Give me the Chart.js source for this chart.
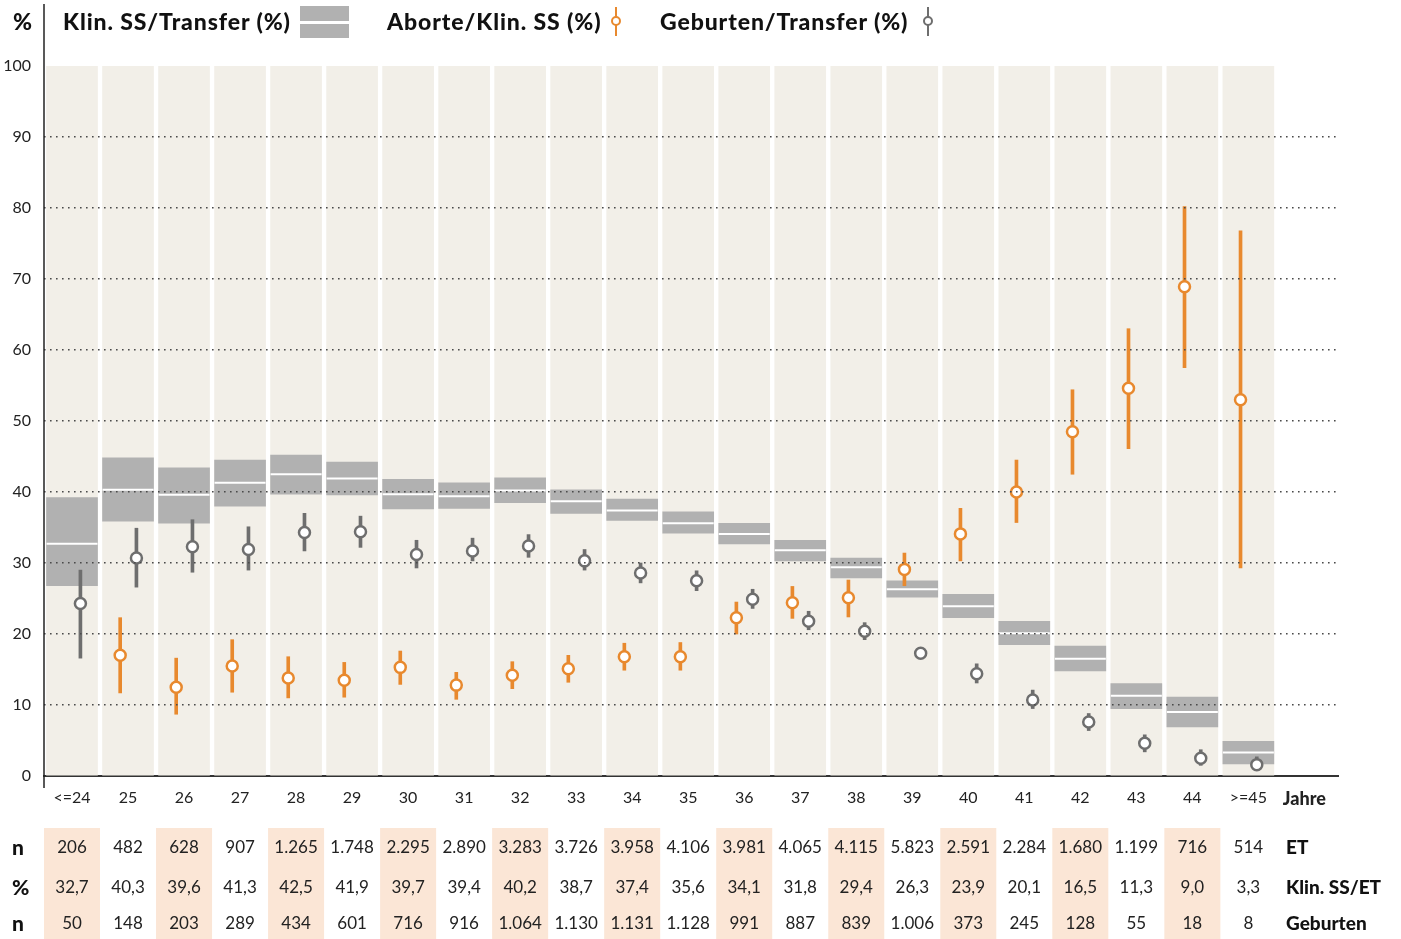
<!DOCTYPE html>
<html>
<head>
<meta charset="utf-8">
<script src="https://cdn.jsdelivr.net/npm/chart.js@4.4.1/dist/chart.umd.min.js"></script>
<style>
  body { margin: 0; background: #fff; font-family: Lato, "Noto Sans", sans-serif; }
  #wrap { position: relative; width: 1401px; height: 939px; }
  #chart { position: absolute; left: 0; top: 0; }
  .lg { position: absolute; top: 6px; font-weight: 900; font-size: 23px; line-height: 30px; letter-spacing: 0.9px; color: #111; white-space: nowrap; }
  .box { position: absolute; left: 300px; top: 6px; width: 49px; height: 32px; background: #b1b1b1; }
  .box:after { content: ""; position: absolute; left: 0; right: 0; top: 15px; height: 3px; background: #fff; }
  .whisk { position: absolute; top: 7px; width: 2px; height: 29px; }
  .dot { position: absolute; top: 16px; width: 6px; height: 6px; border-radius: 50%; background: #fff; border: 2px solid; }
</style>
</head>
<body>
<div id="wrap">
  <canvas id="chart" width="1401" height="939"></canvas>
  <div class="lg" style="left:13px">%</div>
  <div class="lg" style="left:63px">Klin. SS/Transfer (%)</div>
  <div class="box"></div>
  <div class="lg" style="left:387px">Aborte/Klin. SS (%)</div>
  <div class="whisk" style="left:615px;background:#e8892e"></div>
  <div class="dot" style="left:611px;border-color:#e8892e"></div>
  <div class="lg" style="left:660px">Geburten/Transfer (%)</div>
  <div class="whisk" style="left:927px;background:#6e6e6e"></div>
  <div class="dot" style="left:923px;border-color:#6e6e6e"></div>
</div>
<script>
const ages = ['<=24', '25', '26', '27', '28', '29', '30', '31', '32', '33', '34', '35', '36', '37', '38', '39', '40', '41', '42', '43', '44', '>=45'];
const axisTitle = 'Jahre';

// Klin. SS/Transfer (%) with range
const ssPct  = [32.7, 40.3, 39.6, 41.3, 42.5, 41.9, 39.7, 39.4, 40.2, 38.7, 37.4, 35.6, 34.1, 31.8, 29.4, 26.3, 23.9, 20.1, 16.5, 11.3, 9.0, 3.3];
const ssLow  = [26.8, 35.9, 35.6, 38.0, 39.7, 39.6, 37.6, 37.7, 38.5, 37.0, 36.0, 34.2, 32.7, 30.3, 27.9, 25.2, 22.3, 18.5, 14.8, 9.5, 6.9, 1.7];
const ssHigh = [39.2, 44.8, 43.4, 44.5, 45.2, 44.2, 41.8, 41.3, 42.0, 40.3, 39.0, 37.2, 35.6, 33.2, 30.7, 27.5, 25.6, 21.8, 18.3, 13.0, 11.1, 4.9];

// Aborte/Klin. SS (%)
const abortPct  = [null, 17.0, 12.5, 15.5, 13.8, 13.5, 15.3, 12.8, 14.2, 15.1, 16.8, 16.8, 22.3, 24.4, 25.1, 29.1, 34.1, 40.0, 48.5, 54.6, 68.9, 53.0];
const abortLow  = [null, 11.7, 8.7, 11.8, 11.0, 11.1, 12.9, 10.8, 12.3, 13.2, 14.9, 14.9, 20.0, 22.2, 22.4, 26.8, 30.3, 35.7, 42.5, 46.1, 57.5, 29.3];
const abortHigh = [null, 22.3, 16.6, 19.2, 16.8, 16.0, 17.6, 14.6, 16.1, 17.0, 18.7, 18.8, 24.5, 26.7, 27.6, 31.4, 37.7, 44.5, 54.4, 63.0, 80.2, 76.8];

// Geburten/Transfer (%)
const birthPct  = [24.3, 30.7, 32.3, 31.9, 34.3, 34.4, 31.2, 31.7, 32.4, 30.3, 28.6, 27.5, 24.9, 21.8, 20.4, 17.3, 14.4, 10.7, 7.6, 4.6, 2.5, 1.6];
const birthLow  = [16.6, 26.6, 28.7, 29.0, 31.7, 32.2, 29.3, 30.3, 30.8, 29.0, 27.2, 26.1, 23.6, 20.6, 19.2, 16.6, 13.1, 9.5, 6.4, 3.4, 1.5, 0.8];
const birthHigh = [29.0, 34.9, 36.1, 35.1, 37.0, 36.6, 33.2, 33.5, 34.0, 31.9, 30.0, 28.9, 26.3, 23.2, 21.6, 18.0, 15.8, 12.1, 8.8, 5.8, 3.7, 2.7];

// table below the chart
const transfers = [206, 482, 628, 907, 1265, 1748, 2295, 2890, 3283, 3726, 3958, 4106, 3981, 4065, 4115, 5823, 2591, 2284, 1680, 1199, 716, 514];
const births    = [50, 148, 203, 289, 434, 601, 716, 916, 1064, 1130, 1131, 1128, 991, 887, 839, 1006, 373, 245, 128, 55, 18, 8];
const rowLabels = ['n', '%', 'n'];
const rowNames  = ['ET', 'Klin. SS/ET', 'Geburten'];

const FONT = 'Lato, "Noto Sans", sans-serif';
const ORANGE = '#e8892e';
const GREY = '#6e6e6e';
const yMax = 100;

const fmtInt = n => String(n).replace(/\B(?=(\d{3})+(?!\d))/g, '.');
const fmtPct = v => v.toFixed(1).replace('.', ',');

const idx = ages.map((_, i) => i);
const withAbort = idx.filter(i => abortPct[i] != null);
const tickLabels = [...ages, axisTitle];

const tablePlugin = {
  id: 'table',
  afterDraw(chart) {
    const { ctx, chartArea, scales: { x } } = chart;
    const step = x.getPixelForValue(1) - x.getPixelForValue(0);
    ctx.save();
    // y axis runs up to the legend and a bit below zero
    ctx.strokeStyle = '#222';
    ctx.lineWidth = 1.5;
    ctx.beginPath();
    ctx.moveTo(chartArea.left, 4);
    ctx.lineTo(chartArea.left, chartArea.bottom + 12);
    ctx.stroke();

    const rows = [transfers.map(fmtInt), ssPct.map(fmtPct), births.map(fmtInt)];
    const rowY = [848, 888, 924];
    idx.forEach(i => {
      if (i % 2 === 0) {
        ctx.fillStyle = '#fbe6d6';
        ctx.fillRect(x.getPixelForValue(i) - step / 2, 828, step, 111);
      }
    });
    ctx.fillStyle = '#222';
    ctx.font = '17px ' + FONT;
    ctx.textAlign = 'center';
    ctx.textBaseline = 'middle';
    rows.forEach((row, r) => {
      row.forEach((txt, i) => ctx.fillText(txt, x.getPixelForValue(i), rowY[r]));
    });
    ctx.fillStyle = '#111';
    ctx.textAlign = 'left';
    ctx.font = '900 21px ' + FONT;
    rowLabels.forEach((t, r) => ctx.fillText(t, 12, rowY[r]));
    ctx.font = '900 19px ' + FONT;
    rowNames.forEach((t, r) => ctx.fillText(t, 1286, rowY[r]));
    ctx.restore();
  }
};

new Chart(document.getElementById('chart'), {
  data: {
    datasets: [
      {
        type: 'bar',
        data: idx.map(i => ({ x: i, y: [0, yMax] })),
        backgroundColor: '#f2efe8',
        barThickness: 51,
        grouped: false,
        order: 10
      },
      {
        type: 'bar',
        label: 'Klin. SS/Transfer (%)',
        data: idx.map(i => ({ x: i, y: [ssLow[i], ssHigh[i]] })),
        backgroundColor: '#b1b1b1',
        barThickness: 51,
        grouped: false,
        order: 8
      },
      {
        type: 'scatter',
        data: idx.map(i => ({ x: i, y: ssPct[i] })),
        pointStyle: 'line',
        pointRadius: 25.5,
        pointBorderWidth: 2,
        pointBorderColor: '#fff',
        order: 7
      },
      {
        type: 'bar',
        data: withAbort.map(i => ({ x: i - 0.14, y: [abortLow[i], abortHigh[i]] })),
        backgroundColor: ORANGE,
        barThickness: 3,
        grouped: false,
        order: 4
      },
      {
        type: 'bar',
        data: idx.map(i => ({ x: i + 0.15, y: [birthLow[i], birthHigh[i]] })),
        backgroundColor: GREY,
        barThickness: 3,
        grouped: false,
        order: 4
      },
      {
        type: 'scatter',
        label: 'Aborte/Klin. SS (%)',
        data: withAbort.map(i => ({ x: i - 0.14, y: abortPct[i] })),
        pointRadius: 5.5,
        pointBorderWidth: 2.5,
        pointBackgroundColor: '#fff',
        pointBorderColor: ORANGE,
        order: 1
      },
      {
        type: 'scatter',
        label: 'Geburten/Transfer (%)',
        data: idx.map(i => ({ x: i + 0.15, y: birthPct[i] })),
        pointRadius: 5.5,
        pointBorderWidth: 2.5,
        pointBackgroundColor: '#fff',
        pointBorderColor: GREY,
        order: 1
      }
    ]
  },
  options: {
    responsive: false,
    animation: false,
    events: [],
    layout: { padding: { top: 66, right: 63, left: 0, bottom: 0 } },
    plugins: { legend: { display: false }, tooltip: { enabled: false } },
    scales: {
      x: {
        type: 'linear',
        offset: false,
        min: -0.5,
        max: 22.6,
        afterBuildTicks: ax => { ax.ticks = tickLabels.map((_, i) => ({ value: i })); },
        afterFit: ax => { ax.height = 163; ax.paddingLeft = 0; ax.paddingRight = 0; },
        ticks: {
          callback: v => tickLabels[v],
          color: '#222',
          padding: 12,
          maxRotation: 0,
          autoSkip: false,
          font: ctx => ctx.tick && ctx.tick.value === ages.length
            ? { family: FONT, size: 18, weight: '900' }
            : { family: FONT, size: 16 }
        },
        grid: { display: false, drawTicks: false, offset: false },
        border: { color: '#333', width: 2 }
      },
      y: {
        min: 0,
        max: yMax,
        afterFit: ax => { ax.width = 44; },
        ticks: { stepSize: 10, color: '#222', padding: 13, font: { family: FONT, size: 16 } },
        grid: {
          color: ctx => (ctx.tick.value === 0 || ctx.tick.value === yMax) ? 'rgba(0,0,0,0)' : '#4a4a4a',
          lineWidth: 1.6,
          drawTicks: false,
          z: 1
        },
        border: { display: false, dash: [1.6, 4.4] }
      }
    }
  },
  plugins: [tablePlugin]
});
</script>
</body>
</html>
